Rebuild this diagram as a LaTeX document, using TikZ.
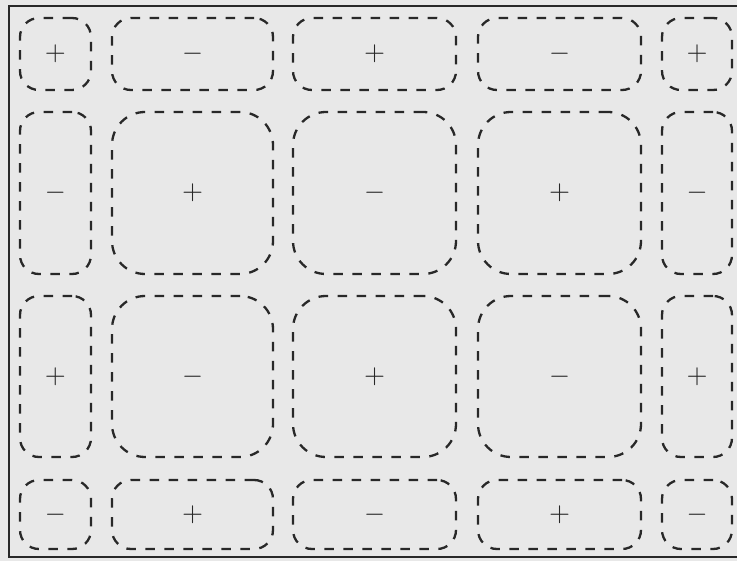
\documentclass[tikz,border=0pt]{standalone}
\definecolor{bg}{RGB}{232,232,232}
\definecolor{ink}{RGB}{40,40,40}
\tikzset{
  cell/.style={draw=ink, line width=2.3pt, dash pattern=on 9.5pt off 9.5pt,
    inner sep=0pt, outer sep=0pt, shape=rectangle},
  sign/.style={text=ink, inner sep=0pt, scale=2.7},
  frame/.style={draw=ink, line width=2pt}
}
\begin{document}
\begin{tikzpicture}[x=1pt,y=-1pt]
\fill[bg] (0,0) rectangle (737,561);
\useasboundingbox (0,0) rectangle (737,561);
\draw[frame] (745,6) -- (9,6) -- (9,557) -- (745,557);
\foreach \r/\ya/\yb in {1/18/90, 2/112/274, 3/296/457, 4/480/549} {
  \foreach \c/\xa/\xb in {1/20/91, 2/112/273, 3/293/456, 4/478/641, 5/662/732} {
    \pgfmathsetmacro\rad{((\xb-\xa>100) && (\yb-\ya>100)) ? 33 : 19}
    \pgfmathtruncatemacro\parity{mod(\r+\c,2)}
    \node[cell, rounded corners=\rad pt,
          minimum width={(\xb-\xa)*1pt}, minimum height={(\yb-\ya)*1pt}]
          (b\r\c) at ({(\xa+\xb)/2},{(\ya+\yb)/2}) {};
    \node[sign] (s\r\c) at (b\r\c.center) {\ifnum\parity=0 $+$\else $-$\fi};
  }
}
\end{tikzpicture}
\end{document}
